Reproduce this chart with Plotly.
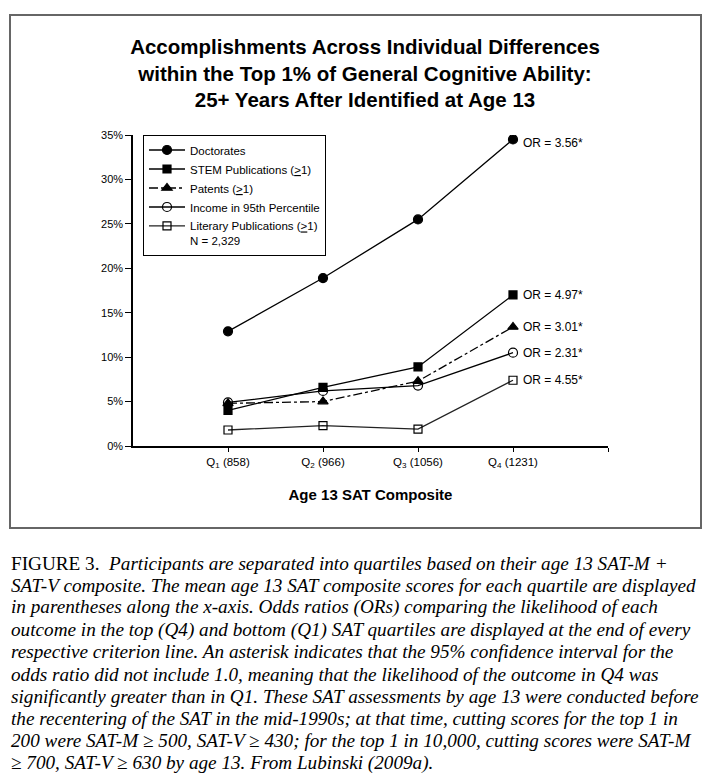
import plotly.graph_objects as go

# ---- data ----
quartiles = ["1", "2", "3", "4"]
sat_means = [858, 966, 1056, 1231]
series_names = [
    "Doctorates",
    "STEM Publications (<u>&gt;</u>1)",
    "Patents (<u>&gt;</u>1)",
    "Income in 95th Percentile",
    "Literary Publications (<u>&gt;</u>1)<br>N = 2,329",
]
doctorates = [12.9, 18.9, 25.5, 34.5]
stem_pubs = [4.0, 6.6, 8.9, 17.0]
patents = [4.8, 5.0, 7.3, 13.4]
income95 = [4.9, 6.2, 6.8, 10.5]
literary_pubs = [1.8, 2.3, 1.9, 7.4]
odds_ratios = ["3.56", "4.97", "3.01", "2.31", "4.55"]
y_ticks = [0, 5, 10, 15, 20, 25, 30, 35]

title_lines = [
    "Accomplishments Across Individual Differences",
    "within the Top 1% of General Cognitive Ability:",
    "25+ Years After Identified at Age 13",
]
caption_lines = [
    "FIGURE 3.  <i>Participants are separated into quartiles based on their age 13 SAT-M +</i>",
    "<i>SAT-V composite. The mean age 13 SAT composite scores for each quartile are displayed</i>",
    "<i>in parentheses along the x-axis. Odds ratios (ORs) comparing the likelihood of each</i>",
    "<i>outcome in the top (Q4) and bottom (Q1) SAT quartiles are displayed at the end of every</i>",
    "<i>respective criterion line. An asterisk indicates that the 95% confidence interval for the</i>",
    "<i>odds ratio did not include 1.0, meaning that the likelihood of the outcome in Q4 was</i>",
    "<i>significantly greater than in Q1. These SAT assessments by age 13 were conducted before</i>",
    "<i>the recentering of the SAT in the mid-1990s; at that time, cutting scores for the top 1 in</i>",
    "<i>200 were SAT-M ≥ 500, SAT-V ≥ 430; for the top 1 in 10,000, cutting scores were SAT-M</i>",
    "<i>≥ 700, SAT-V ≥ 630 by age 13. From Lubinski (2009a).</i>",
]

# ---- layout geometry (page pixels; page body has an 8px margin) ----
OFF = 8
W, H = 710 - 2 * OFF, 782 - 2 * OFF
PLOT_L, PLOT_R, PLOT_T, PLOT_B = 133, 608, 135, 446  # page pixels
ML = PLOT_L - OFF
MT = PLOT_T - OFF
MR = W - (PLOT_R - OFF)
MB = H - (PLOT_B - OFF)
PW = PLOT_R - PLOT_L
PH = PLOT_B - PLOT_T

def px_x(px):
    return (px - PLOT_L) / PW

def px_y(py):
    return (PLOT_B - py) / PH

xpos = [i + 1 for i in range(len(quartiles))]
all_series = [doctorates, stem_pubs, patents, income95, literary_pubs]
styles = [
    dict(symbol="circle", dash="solid", lc="black"),
    dict(symbol="square", dash="solid", lc="black"),
    dict(symbol="triangle-up", dash="dashdot", lc="black"),
    dict(symbol="circle-open", dash="solid", lc="black"),
    dict(symbol="square-open", dash="solid", lc="#222222"),
]
msizes = [9, 8, 9, 9, 8]

fig = go.Figure()
for name, vals, st, ms in zip(series_names, all_series, styles, msizes):
    fig.add_trace(go.Scatter(
        x=xpos, y=vals, name=name, mode="lines+markers",
        line=dict(color=st["lc"], width=1.3, dash=st["dash"]),
        marker=dict(symbol=st["symbol"], size=ms, color="black",
                    line=dict(color="black", width=1.2)),
    ))

font_sans = "Liberation Sans, Arial, sans-serif"
annotations = []
for k, (vals, orv) in enumerate(zip(all_series, odds_ratios)):
    annotations.append(dict(
        x=xpos[-1], y=vals[-1], xref="x", yref="y",
        text=f"OR = {orv}*", showarrow=False, xanchor="left", yanchor="middle",
        xshift=8, yshift=-4 if k == 0 else 0,
        font=dict(family=font_sans, size=12, color="black"),
    ))

# caption
cap_top = 563
cap_step = 22.2
for i, line in enumerate(caption_lines):
    annotations.append(dict(
        x=px_x(9), y=px_y(cap_top + i * cap_step), xref="paper", yref="paper",
        text=line, showarrow=False, xanchor="left", yanchor="middle",
        font=dict(family="Liberation Serif, Times New Roman, serif", size=19.2, color="black"),
    ))

tick_text = [f"Q<sub>{q}</sub> ({m})" for q, m in zip(quartiles, sat_means)] + [""]
y_text = [f"{v}%" for v in y_ticks]

fig.update_layout(
    width=W, height=H,
    margin=dict(l=ML, r=MR, t=MT, b=MB),
    paper_bgcolor="white", plot_bgcolor="white",
    title=dict(
        text="<br>".join(f"<b>{t}</b>" for t in title_lines),
        x=px_x(365), xref="paper", xanchor="center",
        y=1 - 46 / H, yref="container", yanchor="top",
        font=dict(family=font_sans, size=20.5, color="black"),
    ),
    showlegend=True,
    legend=dict(
        x=px_x(143), y=1.0, xanchor="left", yanchor="top",
        bordercolor="black", borderwidth=1, bgcolor="white",
        font=dict(family=font_sans, size=11.5, color="black"),
        tracegroupgap=0, valign="top", itemwidth=36,
    ),
    xaxis=dict(
        range=[0, 5], tickvals=xpos + [5], ticktext=tick_text,
        showline=True, linecolor="black", linewidth=1.5,
        ticks="outside", ticklen=4, tickcolor="black", tickwidth=1.2,
        showgrid=False, zeroline=False,
        tickfont=dict(family=font_sans, size=11.5, color="black"),
        title=dict(text="<b>Age 13 SAT Composite</b>", standoff=21,
                   font=dict(family=font_sans, size=15, color="black")),
    ),
    yaxis=dict(
        range=[0, 35], tickvals=y_ticks, ticktext=y_text,
        showline=True, linecolor="black", linewidth=1.5,
        ticks="outside", ticklen=6, tickcolor="black", tickwidth=1.2,
        showgrid=False, zeroline=False,
        tickfont=dict(family=font_sans, size=11, color="black"),
    ),
    annotations=annotations,
    shapes=[dict(
        type="rect", xref="paper", yref="paper",
        x0=px_x(10), x1=px_x(701), y0=px_y(528), y1=px_y(15),
        line=dict(color="#666666", width=2), fillcolor="rgba(0,0,0,0)", layer="below",
    )],
)

fig.write_html("out.html")
